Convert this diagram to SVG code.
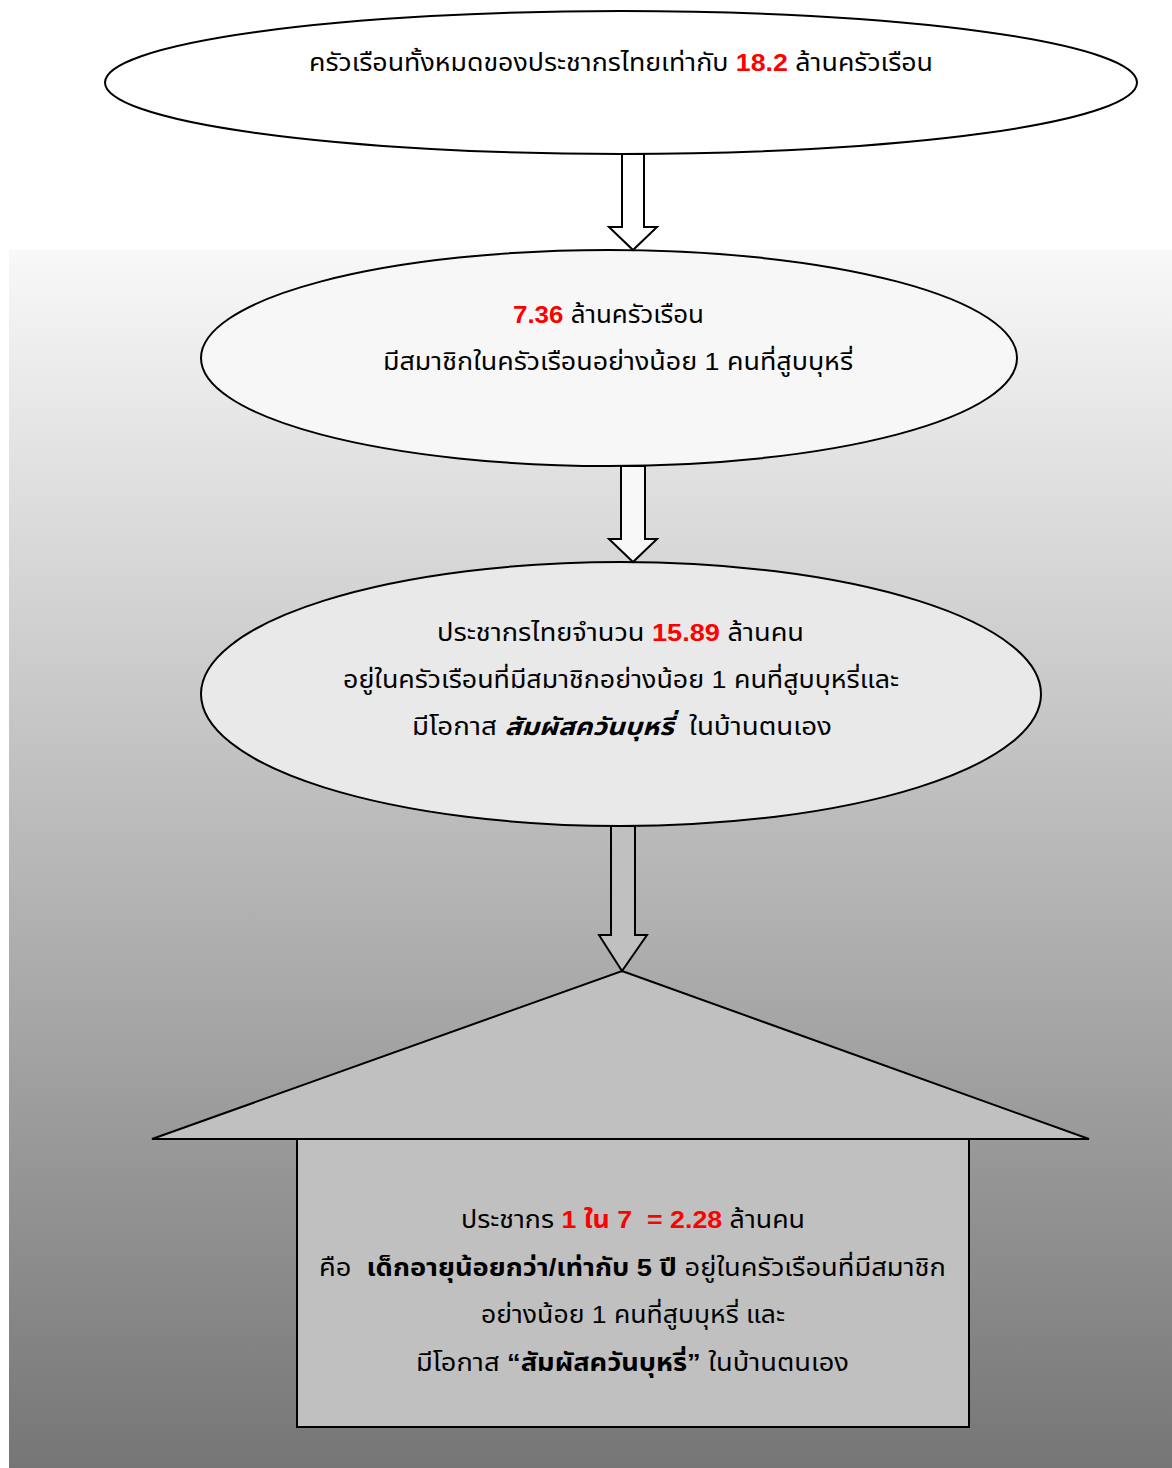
<svg xmlns="http://www.w3.org/2000/svg" width="1172" height="1468" viewBox="0 0 1172 1468">
<defs>
<linearGradient id="bg" gradientUnits="userSpaceOnUse" x1="0" y1="250" x2="0" y2="1468">
<stop offset="0" stop-color="#f8f8f8"/>
<stop offset="1" stop-color="#767676"/>
</linearGradient>
</defs>
<style>
.shape{stroke:#000;stroke-width:2}
.t{font-family:"Liberation Sans","Noto Sans Thai","Noto Sans",sans-serif;font-size:24px;fill:#000;text-anchor:start;white-space:pre}
.r{fill:#ff0000;font-weight:bold}
.b{font-weight:bold}
.bi{font-weight:bold;font-style:italic}
</style>
<rect x="0" y="0" width="1172" height="1468" fill="#ffffff"/>
<rect x="9" y="250" width="1163" height="1218" fill="url(#bg)"/>

<g id="node-total">
<ellipse class="shape" cx="621" cy="82.5" rx="516" ry="71.5" fill="#ffffff"/>
<text class="t" x="309" y="71" textLength="624" lengthAdjust="spacingAndGlyphs">ครัวเรือนทั้งหมดของประชากรไทยเท่ากับ <tspan class="r">18.2</tspan> ล้านครัวเรือน</text>
</g>

<g id="node-households">
<ellipse class="shape" cx="609" cy="358" rx="408" ry="108" fill="#f7f7f7"/>
<text class="t" x="513" y="323" textLength="191" lengthAdjust="spacingAndGlyphs"><tspan class="r">7.36</tspan> ล้านครัวเรือน</text>
<text class="t" x="383" y="370" textLength="470" lengthAdjust="spacingAndGlyphs">มีสมาชิกในครัวเรือนอย่างน้อย 1 คนที่สูบบุหรี่</text>
</g>

<g id="node-population">
<ellipse class="shape" cx="621" cy="694" rx="420" ry="132" fill="#e9e9e9"/>
<text class="t" x="437" y="641" textLength="367" lengthAdjust="spacingAndGlyphs">ประชากรไทยจำนวน <tspan class="r">15.89</tspan> ล้านคน</text>
<text class="t" x="343" y="688" textLength="556" lengthAdjust="spacingAndGlyphs">อยู่ในครัวเรือนที่มีสมาชิกอย่างน้อย 1 คนที่สูบบุหรี่และ</text>
<text class="t" x="412" y="735" textLength="420" lengthAdjust="spacingAndGlyphs">มีโอกาส <tspan class="bi">สัมผัสควันบุหรี่</tspan>  ในบ้านตนเอง</text>
</g>

<g id="node-children">
<polygon class="shape" points="622,971 1089,1139 152,1139" fill="#c0c0c0"/>
<rect class="shape" x="297" y="1139" width="672" height="288" fill="#c0c0c0"/>
<text class="t" x="461" y="1228" textLength="344" lengthAdjust="spacingAndGlyphs">ประชากร <tspan class="r">1 ใน 7  = 2.28</tspan> ล้านคน</text>
<text class="t" x="319" y="1276" textLength="627" lengthAdjust="spacingAndGlyphs">คือ  <tspan class="b">เด็กอายุน้อยกว่า/เท่ากับ 5 ปี</tspan> อยู่ในครัวเรือนที่มีสมาชิก</text>
<text class="t" x="481" y="1323" textLength="304" lengthAdjust="spacingAndGlyphs">อย่างน้อย 1 คนที่สูบบุหรี่ และ</text>
<text class="t" x="416" y="1371" textLength="433" lengthAdjust="spacingAndGlyphs">มีโอกาส <tspan class="b">“สัมผัสควันบุหรี่”</tspan> ในบ้านตนเอง</text>
</g>

<g id="connectors">
<polygon class="shape" points="622,154 644,154 644,227 657,227 633,250 609,227 622,227" fill="#ffffff"/>
<polygon class="shape" points="621,466 645,466 645,539 657,539 633,562 609,539 621,539" fill="#f8f8f8"/>
<polygon class="shape" points="611,826 635,826 635,935 647,935 622,971 599,935 611,935" fill="#c0c0c0"/>
</g>
</svg>
